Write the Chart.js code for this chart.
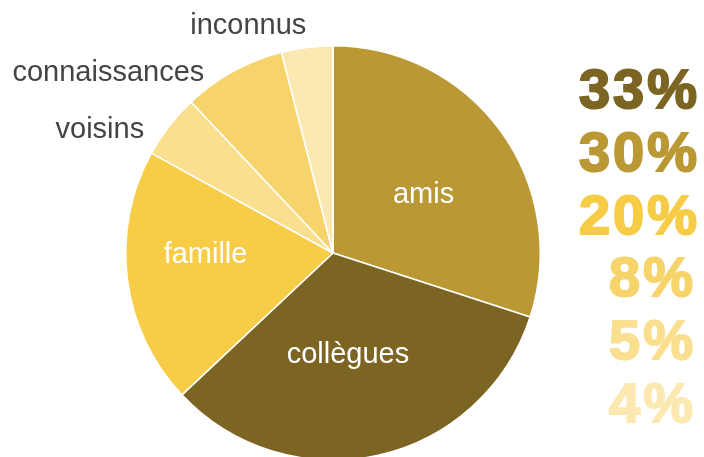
<!DOCTYPE html>
<html>
<head>
<meta charset="utf-8">
<script src="https://cdn.jsdelivr.net/npm/chart.js@4/dist/chart.umd.min.js"></script>
<style>
  html, body { margin: 0; padding: 0; background: #fff; overflow: hidden; }
  #wrap { width: 704px; height: 457px; overflow: hidden; }
</style>
</head>
<body>
<div id="wrap"><canvas id="myChart" width="704" height="520"></canvas></div>
<script>
// data
var labels = ['amis', 'collègues', 'famille', 'voisins', 'connaissances', 'inconnus'];
var values = [30, 33, 20, 5, 8, 4];
var colors = ['#BA9834', '#7C6523', '#F7CC46', '#F9DF8E', '#F7D46B', '#FCE9B1'];

// where each name goes, relative to the pie centre (in radius units), and its colour
var labelSpots = {
    'amis':          { dx: 0.437,  dy: -0.24,  color: '#fff' },
    'collègues':     { dx: 0.072,  dy: 0.529,  color: '#fff' },
    'famille':       { dx: -0.615, dy: 0.048,  color: '#fff' },
    'voisins':       { dx: -1.125, dy: -0.553, color: '#444' },
    'connaissances': { dx: -1.084, dy: -0.832, color: '#444' },
    'inconnus':      { dx: -0.409, dy: -1.058, color: '#444' }
};

var sliceLabels = {
    id: 'sliceLabels',
    afterDatasetsDraw: function(chart) {
        var ctx = chart.ctx;
        var arc = chart.getDatasetMeta(0).data[0];
        var cx = arc.x, cy = arc.y, r = arc.outerRadius;
        ctx.save();
        ctx.font = '29px "Liberation Sans", Arial, sans-serif';
        ctx.textAlign = 'center';
        ctx.textBaseline = 'alphabetic';
        labels.forEach(function(name) {
            var s = labelSpots[name];
            ctx.fillStyle = s.color;
            ctx.fillText(name, cx + s.dx * r, cy + s.dy * r);
        });

        // the percentage column, largest first
        var order = values.map(function(v, i) { return i; })
            .sort(function(a, b) { return values[b] - values[a]; });
        var total = values.reduce(function(a, b) { return a + b; }, 0);
        ctx.font = 'bold 56px "Liberation Sans", Arial, sans-serif';
        ctx.letterSpacing = '3px';
        ctx.textAlign = 'right';
        order.forEach(function(i, k) {
            var pct = Math.round(values[i] / total * 100) + '%';
            var x = pct.length > 2 ? 700 : 696;
            ctx.fillStyle = colors[i];
            ctx.strokeStyle = colors[i];
            ctx.lineWidth = 2;
            ctx.fillText(pct, x, 108 + k * 62.8);
            ctx.strokeText(pct, x, 108 + k * 62.8);
        });
        ctx.restore();
    }
};

new Chart('myChart', {
    type: 'pie',
    data: {
        labels: labels,
        datasets: [{
            data: values,
            backgroundColor: colors,
            borderColor: '#fff',
            borderWidth: 1.5
        }]
    },
    options: {
        responsive: false,
        animation: false,
        layout: { padding: { left: 125, top: 45, right: 163, bottom: 59 } },
        plugins: {
            legend: { display: false },
            tooltip: { enabled: false }
        }
    },
    plugins: [sliceLabels]
});
</script>
</body>
</html>
